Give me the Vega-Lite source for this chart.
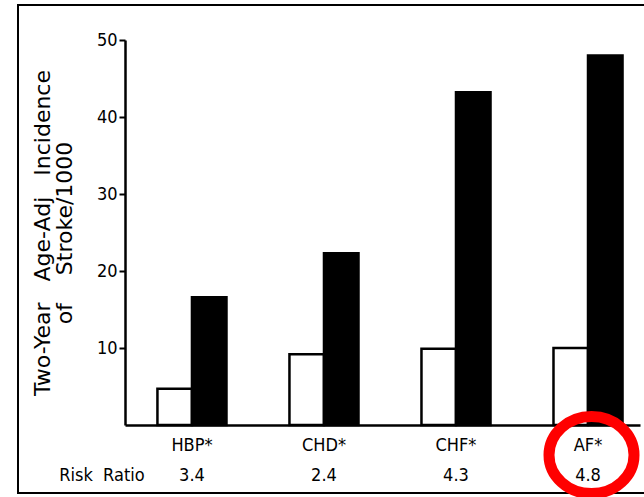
{
  "$schema": "https://vega.github.io/schema/vega-lite/v6.json",
  "autosize": "none",
  "width": 630,
  "height": 488,
  "padding": {"left": 18, "top": 5, "right": -4, "bottom": 4},
  "background": "white",
  "config": {
    "view": {"stroke": "black", "strokeWidth": 2},
    "font": "DejaVu Sans Condensed, Liberation Sans"
  },
  "datasets": {
    "bars": [
      {"condition": "HBP*", "status": "Absent", "incidence": 4.7},
      {"condition": "HBP*", "status": "Present", "incidence": 16.6},
      {"condition": "CHD*", "status": "Absent", "incidence": 9.2},
      {"condition": "CHD*", "status": "Present", "incidence": 22.3},
      {"condition": "CHF*", "status": "Absent", "incidence": 9.9},
      {"condition": "CHF*", "status": "Present", "incidence": 43.2},
      {"condition": "AF*", "status": "Absent", "incidence": 10.0},
      {"condition": "AF*", "status": "Present", "incidence": 48.0}
    ],
    "ratios": [
      {"condition": "HBP*", "ratio": "3.4"},
      {"condition": "CHD*", "ratio": "2.4"},
      {"condition": "CHF*", "ratio": "4.3"},
      {"condition": "AF*", "ratio": "4.8"}
    ]
  },
  "layer": [
    {
      "data": {"name": "bars"},
      "mark": {"type": "bar", "stroke": "black", "strokeWidth": 2.5, "strokeJoin": "miter"},
      "encoding": {
        "x": {
          "field": "condition", "type": "nominal",
          "sort": ["HBP*", "CHD*", "CHF*", "AF*"],
          "scale": {"range": [107, 622], "paddingInner": 0.477, "paddingOuter": 0.189, "align": 0.65},
          "axis": {
            "orient": "bottom", "offset": -68, "title": null, "labelAngle": 0,
            "ticks": false, "domainWidth": 2.5, "domainColor": "black",
            "labelPadding": 11, "labelFontSize": 18, "labelColor": "black",
            "labelFont": "DejaVu Sans Condensed, Liberation Sans"
          }
        },
        "xOffset": {
          "field": "status", "type": "nominal", "sort": ["Absent", "Present"],
          "scale": {"paddingInner": 0, "paddingOuter": 0}
        },
        "y": {
          "field": "incidence", "type": "quantitative",
          "scale": {"domain": [0, 50], "range": [420, 35], "nice": false},
          "axis": {
            "offset": -107, "values": [10, 20, 30, 40, 50], "grid": false,
            "title": ["Two-Year\u00a0\u00a0\u00a0Age-Adj\u00a0\u00a0\u00a0Incidence", "of\u00a0\u00a0\u00a0\u00a0Stroke/1000"],
            "titleFont": "DejaVu Sans", "titleFontSize": 22, "titleFontWeight": "normal",
            "titleLineHeight": 22, "titlePadding": 20, "titleColor": "black",
            "domainWidth": 2.5, "domainColor": "black",
            "tickSize": 6, "tickWidth": 2, "tickColor": "black",
            "labelPadding": 2, "labelFontSize": 18, "labelColor": "black",
            "labelFont": "DejaVu Sans Condensed, Liberation Sans"
          }
        },
        "fill": {
          "field": "status", "type": "nominal",
          "scale": {"domain": ["Absent", "Present"], "range": ["white", "black"]},
          "legend": null
        }
      }
    },
    {
      "data": {"name": "ratios"},
      "mark": {"type": "text", "fontSize": 18, "baseline": "middle", "align": "center", "dy": -17, "color": "black"},
      "encoding": {
        "x": {"field": "condition", "type": "nominal", "sort": ["HBP*", "CHD*", "CHF*", "AF*"]},
        "y": {"value": "height"},
        "text": {"field": "ratio"}
      }
    },
    {
      "data": {"values": [{"condition": "HBP*", "label": "Risk\u00a0\u00a0Ratio"}]},
      "mark": {"type": "text", "fontSize": 18, "baseline": "middle", "align": "center", "dy": -17, "dx": -90, "color": "black"},
      "encoding": {
        "x": {"field": "condition", "type": "nominal", "sort": ["HBP*", "CHD*", "CHF*", "AF*"]},
        "y": {"value": "height"},
        "text": {"field": "label"}
      }
    },
    {
      "data": {"values": [{"condition": "AF*"}]},
      "mark": {
        "type": "point", "filled": false, "opacity": 1, "stroke": "#ff0000", "strokeWidth": 11,
        "size": 10000,
        "shape": "M 0.92 0.6 C 0.92 1.0253 0.5395 1.37 0.07 1.37 C -0.3995 1.37 -0.78 1.0253 -0.78 0.6 C -0.78 0.1747 -0.3995 -0.17 0.07 -0.17 C 0.5395 -0.17 0.92 0.1747 0.92 0.6 Z"
      },
      "encoding": {
        "x": {"field": "condition", "type": "nominal", "sort": ["HBP*", "CHD*", "CHF*", "AF*"]},
        "y": {"datum": 0}
      }
    }
  ]
}
